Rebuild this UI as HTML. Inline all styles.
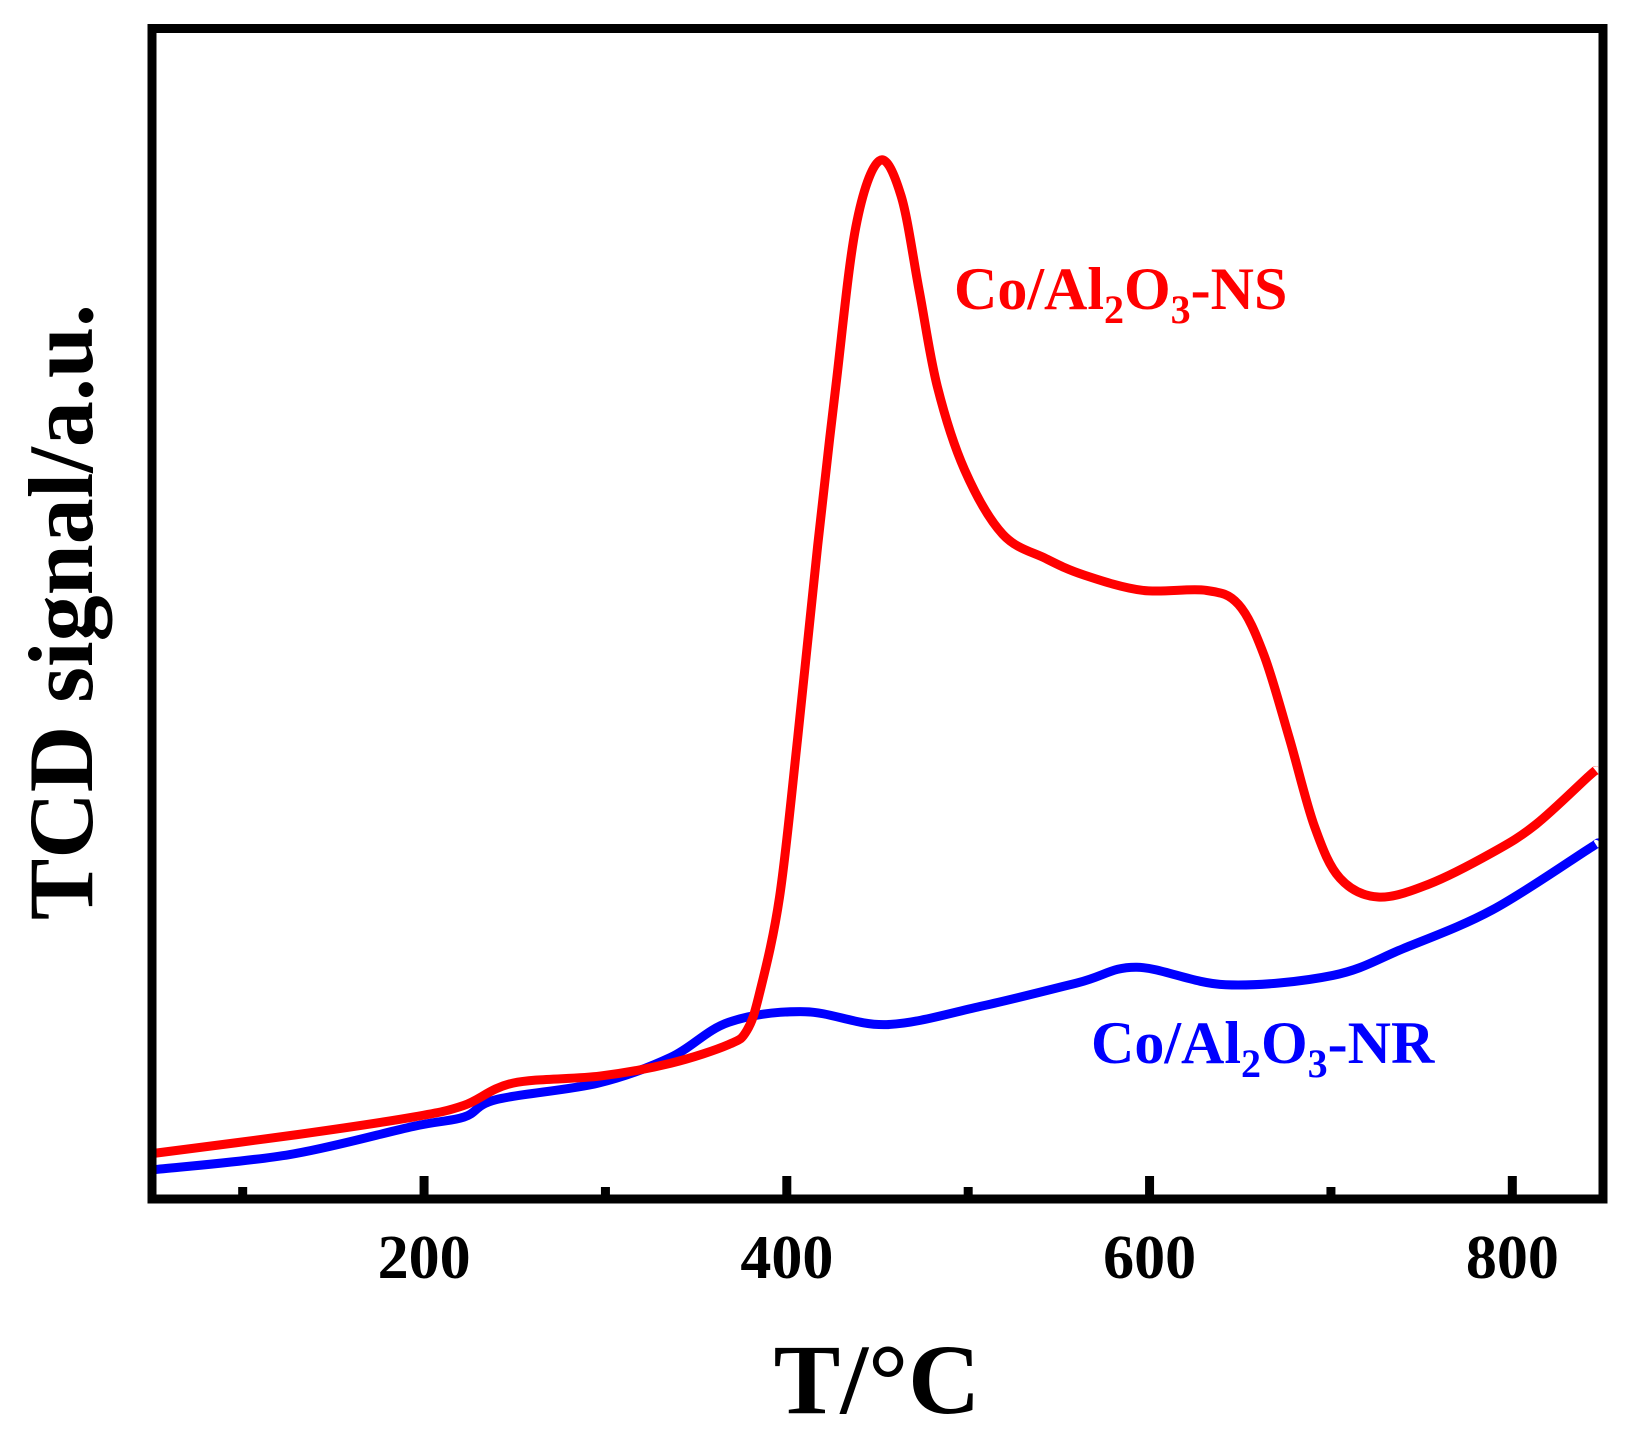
<!DOCTYPE html>
<html><head><meta charset="utf-8"><style>
html,body{margin:0;padding:0;background:#fff;}
svg{display:block;font-family:"Liberation Serif",serif;font-weight:bold;}
</style></head><body>
<svg id="chart" width="1630" height="1437" viewBox="0 0 1630 1437" xmlns="http://www.w3.org/2000/svg">
<g id="plot"></g>
<rect x="152" y="28.5" width="1451" height="1170.5" fill="none" stroke="#000" stroke-width="9"/>
<g id="ticks"></g>
<text x="877" y="1413" font-size="100" text-anchor="middle">T/°C</text>
<text transform="translate(92,612) rotate(-90)" font-size="92" text-anchor="middle">TCD signal/a.u.</text>
<text x="954" y="309" font-size="60" fill="#ff0000">Co/Al<tspan font-size="40" dy="14">2</tspan><tspan dy="-14">O</tspan><tspan font-size="40" dy="14">3</tspan><tspan dy="-14">-NS</tspan></text>
<text x="1091" y="1063" font-size="60" fill="#0000ff">Co/Al<tspan font-size="40" dy="14">2</tspan><tspan dy="-14">O</tspan><tspan font-size="40" dy="14">3</tspan><tspan dy="-14">-NR</tspan></text>
</svg>
<script>
const nsT = [51,130,194,222,249,297,336,368,378,385,396,406,417,427,438,451,463,473,483,498,519,543,564,596,631,649,663,677,691,705,726,754,789,813,842,846];
const nsY = [3.9,5.5,7.0,8.0,9.9,10.5,11.6,13.2,14.4,17.6,25.8,39.4,55.8,69.4,83.0,88.7,85.7,77.6,69.4,62.3,56.8,54.7,53.3,52.0,52.0,50.8,46.5,39.4,31.8,27.4,25.8,26.9,29.6,32.0,36.1,36.6];
const nrT = [51,126,194,222,240,296,336,368,410,455,508,561,593,642,701,740,789,842,846];
const nrY = [2.5,3.8,6.2,7.0,8.5,9.9,12.1,15.1,16.0,14.9,16.5,18.5,19.8,18.3,19.1,21.4,24.7,29.9,30.3];
const majorTicks = [200,400,600,800];
const minorTicks = [100,300,500,700];
const tickLabels = ["200","400","600","800"];

const X0=50,X1=850,PX0=152,PX1=1603,Y0=0,Y1=100,PY0=1199,PY1=28.5;
const sx=v=>PX0+(v-X0)/(X1-X0)*(PX1-PX0);
const sy=v=>PY0+(v-Y0)/(Y1-Y0)*(PY1-PY0);
const NS="http://www.w3.org/2000/svg";
function smooth(xs,ys){
  const p=xs.map((x,i)=>[sx(x),sy(ys[i])]);
  let d=`M${p[0][0]},${p[0][1]}`;
  for(let i=0;i<p.length-1;i++){
    const a=p[Math.max(i-1,0)],b=p[i],c=p[i+1],e=p[Math.min(i+2,p.length-1)];
    const c1=[b[0]+(c[0]-a[0])/6,b[1]+(c[1]-a[1])/6];
    const c2=[c[0]-(e[0]-b[0])/6,c[1]-(e[1]-b[1])/6];
    d+=` C${c1[0]},${c1[1]} ${c2[0]},${c2[1]} ${c[0]},${c[1]}`;
  }
  return d;
}
const plot=document.getElementById('plot');
const nr=document.createElementNS(NS,'path');
nr.setAttribute('d',smooth(nrT,nrY));
nr.setAttribute('fill','none');nr.setAttribute('stroke','#0000ff');nr.setAttribute('stroke-width','9');


plot.appendChild(nr);
const ns=document.createElementNS(NS,'path');
ns.setAttribute('d',smooth(nsT,nsY));
ns.setAttribute('fill','none');ns.setAttribute('stroke','#ff0000');ns.setAttribute('stroke-width','9');


plot.appendChild(ns);

const tg=document.getElementById('ticks');
majorTicks.forEach((t,i)=>{
  const l=document.createElementNS(NS,'line');
  l.setAttribute('x1',sx(t));l.setAttribute('x2',sx(t));l.setAttribute('y1',1199);l.setAttribute('y2',1176);
  l.setAttribute('stroke','#000');l.setAttribute('stroke-width','9');
  
  
  tg.appendChild(l);
  const tx=document.createElementNS(NS,'text');
  tx.setAttribute('x',sx(t));tx.setAttribute('y',1278);tx.setAttribute('font-size','62');tx.setAttribute('text-anchor','middle');
  tx.textContent=tickLabels[i];
  
  
  tg.appendChild(tx);
});
minorTicks.forEach(t=>{
  const l=document.createElementNS(NS,'line');
  l.setAttribute('x1',sx(t));l.setAttribute('x2',sx(t));l.setAttribute('y1',1199);l.setAttribute('y2',1187);
  l.setAttribute('stroke','#000');l.setAttribute('stroke-width','9');
  
  
  tg.appendChild(l);
});
</script>
</body></html>
